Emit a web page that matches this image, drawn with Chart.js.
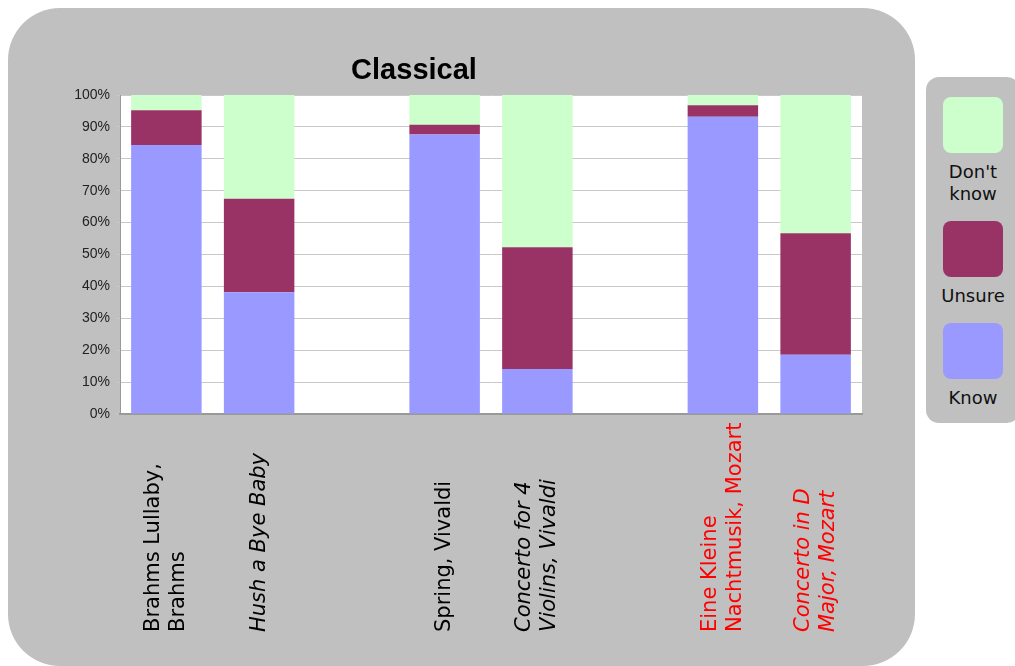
<!DOCTYPE html>
<html>
<head>
<meta charset="utf-8">
<script src="https://cdn.jsdelivr.net/npm/chart.js"></script>
<style>
	body{ margin:0; background:#fff; width:1015px; height:666px; overflow:hidden; position:relative; font-family:"DejaVu Sans",sans-serif; }
	#panel{ position:absolute; left:8px; top:8px; width:907px; height:658px; background:#c0c0c0; border-radius:52px; }
	#legend{ position:absolute; left:926px; top:77px; width:94px; height:346px; background:#c0c0c0; border-radius:13px; box-sizing:border-box; padding-top:20px; }
	.item{ display:flex; flex-direction:column; align-items:center; margin-bottom:16px; }
	.swatch{ width:60px; height:56px; border-radius:8px; }
	.txt{ margin-top:8px; font-size:18px; line-height:22px; color:#111; text-align:center; }
	#c{ position:absolute; left:0; top:0; }
</style>
</head>
<body>
<div id="panel"></div>
<div id="legend"></div>
<canvas id="c" width="1015" height="666"></canvas>
<script>

// survey answers per piece, in percent (empty slots keep the groups apart)
var pieces = [
	["Brahms Lullaby,","Brahms"],
	["Hush a Bye Baby"],
	[],
	["Spring, Vivaldi"],
	["Concerto for 4","Violins, Vivaldi"],
	[],
	["Eine Kleine","Nachtmusik, Mozart"],
	["Concerto in D","Major, Mozart"]
];
var know     = [ 84.3, 38.2, null, 87.6, 14.1, null, 93.2, 18.6 ];
var unsure   = [ 10.9, 29.3, null,  3.1, 38.2, null,  3.6, 38.1 ];
var dontKnow = [  4.8, 32.5, null,  9.3, 47.7, null,  3.2, 43.3 ];
var yTicks   = [ 0,10,20,30,40,50,60,70,80,90,100 ];

// how each piece name is written under its bar
var nameItalic = [ false, true, false, false, true, false, false, true ];
var nameRed    = [ false, false, false, false, false, false, true, true ];

var extras = {
	id: "extras",
	beforeDraw: (chart)=>{
		var a = chart.chartArea, ctx = chart.ctx;
		ctx.save();
		ctx.fillStyle = "#fff";
		ctx.fillRect( a.left, a.top, a.right-a.left, a.bottom-a.top );
		ctx.restore();
	},
	afterDraw: (chart)=>{
		var ctx = chart.ctx, xs = chart.scales.x;
		ctx.save();
		// title
		ctx.font = "bold 29px 'Liberation Sans', Arial, sans-serif";
		ctx.fillStyle = "#000";
		ctx.textAlign = "center";
		ctx.textBaseline = "alphabetic";
		ctx.fillText( "Classical", 414, 79 );
		// piece names, read upwards
		pieces.forEach( (lines,i)=>{
			if( !lines.length ) return;
			var x = xs.getPixelForValue( i );
			ctx.save();
			ctx.translate( x, 632 );
			ctx.rotate( -Math.PI/2 );
			ctx.font = ( nameItalic[i] ? "italic " : "" ) + "21px 'DejaVu Sans', sans-serif";
			ctx.fillStyle = nameRed[i] ? "#ff0000" : "#000";
			ctx.textAlign = "left";
			ctx.textBaseline = "middle";
			lines.forEach( (s,k)=>{
				ctx.fillText( s, 0, ( k - (lines.length-1)/2 ) * 25 );
			});
			ctx.restore();
		});
		ctx.restore();
	}
};

var chart = new Chart( "c", {
	type: "bar",
	data: {
		labels: pieces.map( l=>l.join(" ") ),
		datasets: [
			{ label: "Know", data: know, backgroundColor: "#9999ff" },
			{ label: "Unsure", data: unsure, backgroundColor: "#993366" },
			{ label: "Don't know", data: dontKnow, backgroundColor: "#ccffcc" }
		]
	},
	options: {
		responsive: false,
		animation: false,
		layout: { padding: { left: 0, right: 153, top: 95, bottom: 0 } },
		datasets: { bar: { categoryPercentage: 1, barPercentage: 0.76, borderWidth: 0 } },
		plugins: { legend: { display: false }, tooltip: { enabled: false } },
		scales: {
			x: {
				stacked: true,
				grid: { display: false },
				border: { color: "#999", width: 2 },
				ticks: { display: false },
				afterFit: (s)=>{ s.height = 252; }
			},
			y: {
				stacked: true,
				min: 0, max: 100,
				afterBuildTicks: (s)=>{ s.ticks = yTicks.map( v=>({ value: v }) ); },
				ticks: {
					callback: (v)=>v + "%",
					font: { family: "'Liberation Sans', Arial, sans-serif", size: 14 },
					color: "#222",
					padding: 6
				},
				grid: { color: "#c8c8c8", tickLength: 4 },
				border: { color: "#999" },
				afterFit: (s)=>{ s.width = 120; }
			}
		}
	},
	plugins: [ extras ]
});

// legend, top series first
var box = document.getElementById( "legend" );
chart.data.datasets.slice().reverse().forEach( (d)=>{
	var item = document.createElement( "div" );
	item.className = "item";
	item.innerHTML = '<div class="swatch" style="background:' + d.backgroundColor + '"></div><div class="txt">' + d.label + '</div>';
	box.appendChild( item );
});

</script>
</body>
</html>
